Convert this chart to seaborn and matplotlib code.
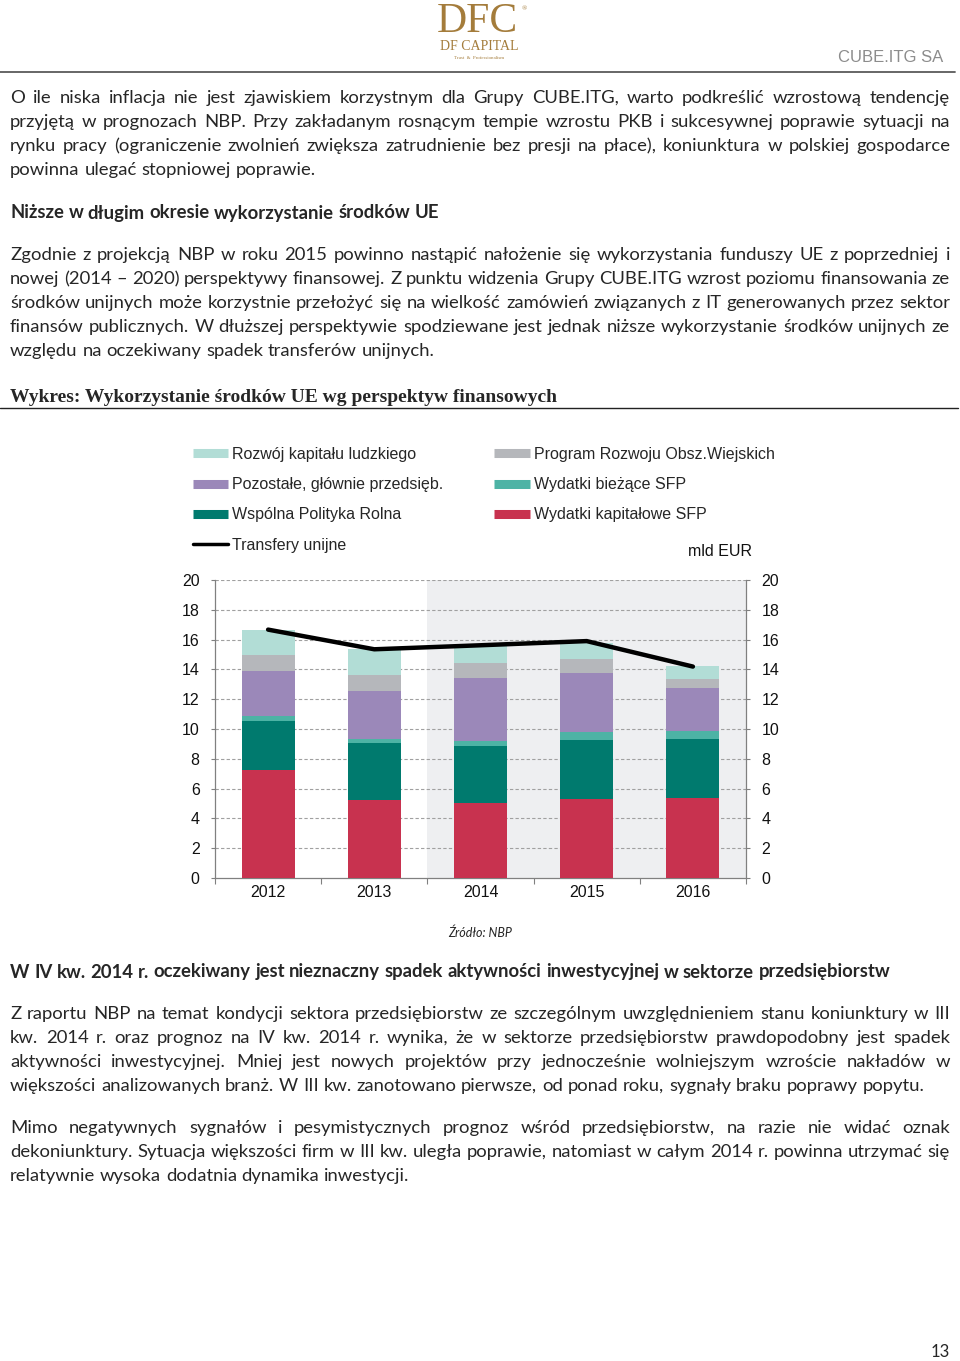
import numpy as np
import pandas as pd
import seaborn as sns
import matplotlib.pyplot as plt
from matplotlib.lines import Line2D

# chart data (mld EUR)
years = ["2012", "2013", "2014", "2015", "2016"]
kapitalowe_sfp = [7.22, 5.25, 5.03, 5.30, 5.36]
wpr = [3.30, 3.82, 3.82, 3.97, 3.98]
biezace_sfp = [0.32, 0.29, 0.33, 0.52, 0.54]
pozostale = [3.06, 3.22, 4.27, 4.00, 2.86]
prow = [1.07, 1.02, 1.01, 0.94, 0.60]
kapital_ludzki = [1.66, 1.75, 1.18, 1.02, 0.89]
transfery = [16.67, 15.35, 15.62, 15.90, 14.19]
y_ticks = [0, 2, 4, 6, 8, 10, 12, 14, 16, 18, 20]

# page text
para1 = [
    "O ile niska inflacja nie jest zjawiskiem korzystnym dla Grupy CUBE.ITG, warto podkreślić wzrostową tendencję",
    "przyjętą w prognozach NBP. Przy zakładanym rosnącym tempie wzrostu PKB i sukcesywnej poprawie sytuacji na",
    "rynku pracy (ograniczenie zwolnień zwiększa zatrudnienie bez presji na płace), koniunktura w polskiej gospodarce",
    "powinna ulegać stopniowej poprawie.",
]
heading1 = "Niższe w długim okresie wykorzystanie środków UE"
para2 = [
    "Zgodnie z projekcją NBP w roku 2015 powinno nastąpić nałożenie się wykorzystania funduszy UE z poprzedniej i",
    "nowej (2014 – 2020) perspektywy finansowej. Z punktu widzenia Grupy CUBE.ITG wzrost poziomu finansowania ze",
    "środków unijnych może korzystnie przełożyć się na wielkość zamówień związanych z IT generowanych przez sektor",
    "finansów publicznych. W dłuższej perspektywie spodziewane jest jednak niższe wykorzystanie środków unijnych ze",
    "względu na oczekiwany spadek transferów unijnych.",
]
chart_title = "Wykres: Wykorzystanie środków UE wg perspektyw finansowych"
heading2 = "W IV kw. 2014 r. oczekiwany jest nieznaczny spadek aktywności inwestycyjnej w sektorze przedsiębiorstw"
para3 = [
    "Z raportu NBP na temat kondycji sektora przedsiębiorstw ze szczególnym uwzględnieniem stanu koniunktury w III",
    "kw. 2014 r. oraz prognoz na IV kw. 2014 r. wynika, że w sektorze przedsiębiorstw prawdopodobny jest spadek",
    "aktywności inwestycyjnej. Mniej jest nowych projektów przy jednocześnie wolniejszym wzroście nakładów w",
    "większości analizowanych branż. W III kw. zanotowano pierwsze, od ponad roku, sygnały braku poprawy popytu.",
]
para4 = [
    "Mimo negatywnych sygnałów i pesymistycznych prognoz wśród przedsiębiorstw, na razie nie widać oznak",
    "dekoniunktury. Sytuacja większości firm w III kw. uległa poprawie, natomiast w całym 2014 r. powinna utrzymać się",
    "relatywnie wysoka dodatnia dynamika inwestycji.",
]

W, H = 960, 1361
BODY = ["Lato", "DejaVu Sans"]
BODY_SIZE = 13.3
CHART_FONT = ["Liberation Sans", "DejaVu Sans"]
X0, X1 = 10, 950

sns.set_theme(style="white")
plt.rcParams["font.family"] = CHART_FONT

fig = plt.figure(figsize=(W / 100, H / 100), dpi=100)
renderer = fig.canvas.get_renderer()


def fx(x):
    return x / W


def fy(y):
    return 1 - y / H


def draw_line(text, y, justify=True, weight="normal"):
    words = text.split(" ")
    arts = [fig.text(0, fy(y), w, fontsize=BODY_SIZE, family=BODY, weight=weight,
                     va="center", ha="left") for w in words]
    widths = [a.get_window_extent(renderer).width for a in arts]
    probe1 = fig.text(0, 0, "x x", fontsize=BODY_SIZE, family=BODY, weight=weight)
    probe2 = fig.text(0, 0, "xx", fontsize=BODY_SIZE, family=BODY, weight=weight)
    space = probe1.get_window_extent(renderer).width - probe2.get_window_extent(renderer).width
    probe1.remove()
    probe2.remove()
    if justify and len(words) > 1:
        gap = (X1 - X0 - sum(widths)) / (len(words) - 1)
    else:
        gap = space
    x = X0
    for a, w in zip(arts, widths):
        a.set_x(fx(x))
        x += w + gap


def draw_para(lines, y0, step=24):
    for i, line in enumerate(lines):
        draw_line(line, y0 + i * step, justify=(i < len(lines) - 1))


# header
fig.text(fx(477), fy(22), "DFC", fontsize=30, family=["Liberation Serif"], color="#A47C3B",
         ha="center", va="center")
fig.text(fx(524), fy(9), "®", fontsize=5, family=["Liberation Serif"], color="#A47C3B",
         ha="center", va="center")
fig.text(fx(479), fy(46), "DF CAPITAL", fontsize=10, family=["Liberation Serif"], color="#A47C3B",
         ha="center", va="center")
fig.text(fx(479), fy(58), "Trust  &  Professionalism", fontsize=3.5, family=["Liberation Serif"],
         color="#A47C3B", ha="center", va="center")
fig.text(fx(943), fy(57), "CUBE.ITG SA", fontsize=12, family=["Liberation Sans Narrow", "Liberation Sans"],
         color="#8C8C8C", ha="right", va="center")
fig.add_artist(Line2D([0, fx(955)], [fy(72), fy(72)], color="#5A5A5A", lw=1.3))

draw_para(para1, 98)
draw_line(heading1, 213, justify=False, weight="bold")
draw_para(para2, 255)

fig.text(fx(10), fy(397), chart_title, fontsize=14, family=["Liberation Serif"], weight="bold",
         ha="left", va="center")
fig.add_artist(Line2D([0, fx(958)], [fy(408), fy(408)], color="#222222", lw=1.0))

# chart
ax = fig.add_axes([fx(215), fy(878), (746 - 215) / W, (878 - 580) / H])
layers = [
    ("Wydatki kapitałowe SFP", kapitalowe_sfp, "#C8324F"),
    ("Wspólna Polityka Rolna", wpr, "#007A6E"),
    ("Wydatki bieżące SFP", biezace_sfp, "#4DB3A5"),
    ("Pozostałe, głównie przedsięb.", pozostale, "#9B88B9"),
    ("Program Rozwoju Obsz.Wiejskich", prow, "#B5B7BB"),
    ("Rozwój kapitału ludzkiego", kapital_ludzki, "#B2DDD6"),
]
df = pd.DataFrame({name: vals for name, vals, _ in layers}, index=years)
cum = df.cumsum(axis=1)

ax.axvspan(1.5, 4.5, color="#EEEFF1", zorder=0, lw=0)
for name, _, color in reversed(layers):
    sns.barplot(x=years, y=cum[name].values, color=color, saturation=1, width=0.5,
                linewidth=0, ax=ax, zorder=3)
sns.lineplot(x=np.arange(len(years)), y=transfery, color="black", lw=3.2, ax=ax, zorder=4)

ax.set_xlim(-0.5, 4.5)
ax.set_ylim(0, 20)
ax.set_yticks(y_ticks)
ax.set_xticks(range(len(years)))
ax.set_xticklabels(years)
ax.set_xticks(np.arange(-0.5, 4.6, 1), minor=True)
for yv in y_ticks[1:]:
    ax.axhline(yv, color="#A0A0A0", lw=0.8, ls=(0, (3, 2)), zorder=1)
ax.grid(False)
ax.tick_params(axis="y", which="major", left=True, right=True, labelleft=True, labelright=True,
               direction="out", length=3, width=0.8, color="#808080", labelsize=11.5, pad=8,
               labelcolor="#111111")
ax.tick_params(axis="x", which="major", length=0, labelsize=11.5, pad=5, labelcolor="#111111")
ax.tick_params(axis="x", which="minor", bottom=True, direction="out", length=4, width=0.8,
               color="#808080")
for side in ["left", "right", "bottom"]:
    ax.spines[side].set_visible(True)
    ax.spines[side].set_color("#808080")
    ax.spines[side].set_linewidth(0.9)
ax.spines["top"].set_visible(False)
ax.set_xlabel("")
ax.set_ylabel("")

lookup = {name: color for name, _, color in layers}
order = ["Rozwój kapitału ludzkiego", "Pozostałe, głównie przedsięb.", "Wspólna Polityka Rolna",
         None, "Program Rozwoju Obsz.Wiejskich", "Wydatki bieżące SFP", "Wydatki kapitałowe SFP"]
handles, labels = [], []
for name in order:
    if name is None:
        handles.append(Line2D([], [], color="black", lw=2.5))
        labels.append("Transfery unijne")
    else:
        handles.append(Line2D([], [], color=lookup[name], lw=6.5, solid_capstyle="butt"))
        labels.append(name)
fig.legend(handles, labels, ncol=2, loc="upper left", bbox_to_anchor=(fx(193), fy(447)),
           frameon=False, fontsize=11.5, handlelength=2.2, handletextpad=0.25,
           labelspacing=0.95, columnspacing=3.2, borderpad=0, borderaxespad=0)
fig.text(fx(720), fy(552), "mld EUR", fontsize=11.5, ha="center", va="center", color="#111111")
fig.text(fx(480), fy(933), "Źródło: NBP", fontsize=9, style="italic", ha="center", va="center",
         family=BODY)

draw_line(heading2, 972, justify=False, weight="bold")
draw_para(para3, 1014)
draw_para(para4, 1128)

fig.text(fx(950), fy(1352), "13", fontsize=12, family=BODY, ha="right", va="center")

fig.savefig("out.png", dpi=100)
